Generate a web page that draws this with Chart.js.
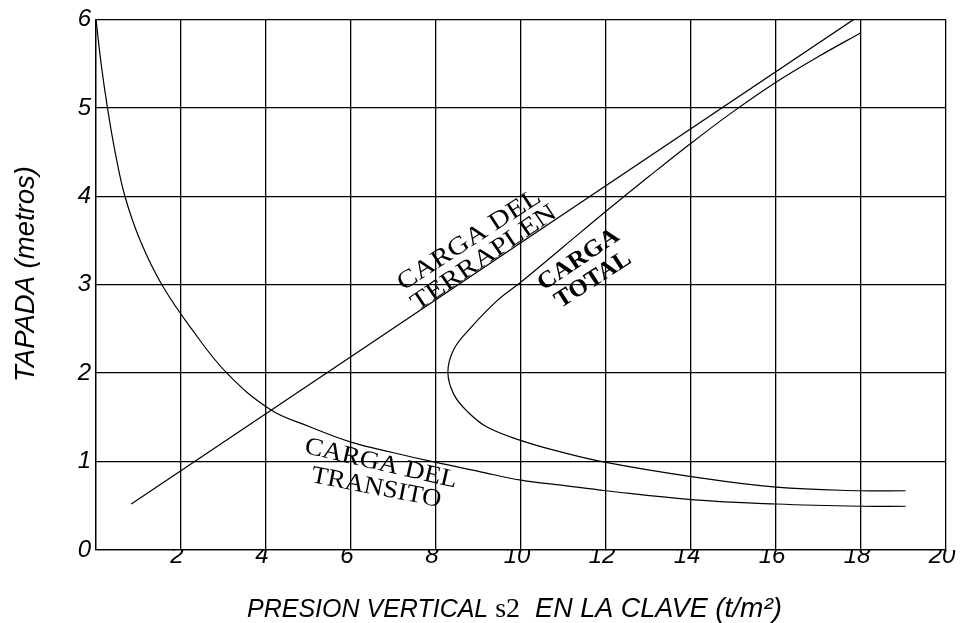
<!DOCTYPE html>
<html>
<head>
<meta charset="utf-8">
<script src="https://cdn.jsdelivr.net/npm/chart.js@4"></script>
<style>
  html, body { margin: 0; padding: 0; background: #fff; }
</style>
</head>
<body>
<canvas id="chart" width="964" height="623"></canvas>
<script>
// x ticks (t/m2) and y ticks (metros)
const xTicks = [0, 2, 4, 6, 8, 10, 12, 14, 16, 18, 20];
const yTicks = [0, 1, 2, 3, 4, 5, 6];

// CARGA DEL TERRAPLEN (straight line)
const terraplen = [
  [0.83, 0.52],
  [17.83, 6.0],
];

// CARGA DEL TRANSITO
const transito = [
  [0, 6], [0.12, 5.5], [0.27, 5], [0.45, 4.5], [0.68, 4], [1.04, 3.5],
  [1.55, 3], [2.25, 2.5], [3.08, 2], [4.1, 1.59],
  [5, 1.4], [6, 1.22], [7, 1.1], [8, 0.99], [9, 0.89], [10, 0.79],
  [11, 0.73], [12, 0.67], [14, 0.57], [16, 0.52], [18, 0.495], [19.05, 0.495],
];

// CARGA TOTAL
const total = [
  [19.05, 0.67], [18, 0.67], [16, 0.71], [14, 0.83], [12, 0.99], [10.77, 1.13],
  [9.99, 1.24], [9.2, 1.39], [8.75, 1.56], [8.42, 1.76], [8.28, 2.01],
  [8.42, 2.27], [8.81, 2.51], [9.44, 2.82],
  [10, 3.03], [11, 3.43], [12, 3.83], [13, 4.22], [14, 4.6], [15, 4.96],
  [16, 5.29], [17, 5.58], [18, 5.85],
];

// curve captions: anchor in data units, angle in degrees, target text width in px
const captions = [
  { text: "CARGA DEL", x: 7.23, y: 2.93, angle: -33, width: 166, bold: false },
  { text: "TERRAPLEN", x: 7.56, y: 2.70, angle: -34, width: 170, bold: false },
  { text: "CARGA", x: 10.53, y: 2.93, angle: -34, width: 93, bold: true },
  { text: "TOTAL", x: 10.93, y: 2.73, angle: -33, width: 86, bold: true },
  { text: "CARGA DEL", x: 4.88, y: 1.10, angle: 13, width: 156, bold: false },
  { text: "TRANSITO", x: 5.04, y: 0.77, angle: 11, width: 132, bold: false },
];

const SANS = "'Liberation Sans', Arial, sans-serif";
const SERIF = "'Liberation Serif', 'Times New Roman', serif";

const toPoints = (arr) => arr.map(([x, y]) => ({ x, y }));

function lineSet(label, data, tension) {
  return {
    label,
    data: toPoints(data),
    showLine: true,
    borderColor: "#000",
    borderWidth: 1.2,
    pointRadius: 0,
    tension,
  };
}

const captionPlugin = {
  id: "captions",
  afterDatasetsDraw(chart) {
    const { ctx, scales } = chart;
    ctx.save();
    ctx.fillStyle = "#000";
    ctx.textAlign = "left";
    ctx.textBaseline = "alphabetic";
    for (const c of captions) {
      ctx.font = `${c.bold ? "bold 24px" : "25px"} ${SERIF}`;
      const w = ctx.measureText(c.text).width;
      ctx.save();
      ctx.translate(scales.x.getPixelForValue(c.x), scales.y.getPixelForValue(c.y));
      ctx.rotate((c.angle * Math.PI) / 180);
      ctx.scale(c.width / w, 1);
      ctx.fillText(c.text, 0, 0);
      ctx.restore();
    }
    ctx.restore();
  },
};

const titlePlugin = {
  id: "axisTitles",
  afterDraw(chart) {
    const { ctx } = chart;
    ctx.save();
    ctx.fillStyle = "#000";

    // y title
    ctx.font = `italic 27.5px ${SANS}`;
    ctx.textAlign = "center";
    ctx.textBaseline = "middle";
    ctx.translate(26, 274);
    ctx.rotate(-Math.PI / 2);
    ctx.fillText("TAPADA (metros)", 0, 0);
    ctx.restore();

    // x title, mixed fonts
    ctx.save();
    ctx.fillStyle = "#000";
    ctx.textAlign = "left";
    ctx.textBaseline = "alphabetic";
    const parts = [
      ["PRESION VERTICAL ", `italic 25px ${SANS}`],
      ["s2", `28px ${SERIF}`],
      ["  EN LA CLAVE ", `italic 27px ${SANS}`],
      ["(t/m²)", `italic 28px ${SANS}`],
    ];
    let x = 247;
    const y = 617;
    for (const [t, f] of parts) {
      ctx.font = f;
      ctx.fillText(t, x, y);
      x += ctx.measureText(t).width;
    }
    ctx.restore();
  },
};

new Chart(document.getElementById("chart"), {
  type: "scatter",
  data: {
    datasets: [
      lineSet("CARGA DEL TERRAPLEN", terraplen, 0),
      lineSet("CARGA DEL TRANSITO", transito, 0.4),
      lineSet("CARGA TOTAL", total, 0.4),
    ],
  },
  options: {
    responsive: false,
    animation: false,
    layout: { padding: { top: 17, right: 18, left: 0, bottom: 0 } },
    plugins: {
      legend: { display: false },
      tooltip: { enabled: false },
    },
    scales: {
      x: {
        type: "linear",
        min: xTicks[0],
        max: xTicks[xTicks.length - 1],
        afterBuildTicks: (scale) => {
          scale.ticks = xTicks.map((v) => ({ value: v }));
        },
        afterFit: (scale) => {
          scale.height = 73;
        },
        ticks: {
          color: "#000",
          padding: -8,
          labelOffset: -4,
          font: { family: SANS, size: 24, style: "italic" },
          callback: (v) => (v === 0 ? "" : String(v)),
        },
        grid: { color: "#000", lineWidth: 1.3, drawTicks: false },
        border: { color: "#000", width: 1.3 },
      },
      y: {
        type: "linear",
        min: yTicks[0],
        max: yTicks[yTicks.length - 1],
        afterBuildTicks: (scale) => {
          scale.ticks = yTicks.map((v) => ({ value: v }));
        },
        afterFit: (scale) => {
          scale.width = 96;
        },
        ticks: {
          color: "#000",
          padding: 5,
          font: { family: SANS, size: 24, style: "italic" },
        },
        grid: { color: "#000", lineWidth: 1.3, drawTicks: false },
        border: { color: "#000", width: 1.3 },
      },
    },
  },
  plugins: [captionPlugin, titlePlugin],
});
</script>
</body>
</html>
